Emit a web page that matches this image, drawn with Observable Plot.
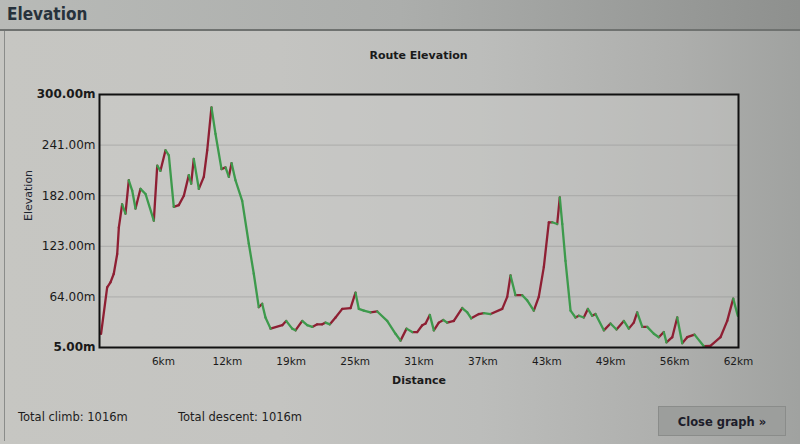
<!DOCTYPE html>
<html>
<head>
<meta charset="utf-8">
<script src="https://cdn.jsdelivr.net/npm/d3@7"></script>
<script src="https://cdn.jsdelivr.net/npm/@observablehq/plot@0.6"></script>
<style>
  html, body { margin:0; padding:0; }
  body {
    width:800px; height:444px; overflow:hidden; position:relative;
    font-family:"DejaVu Sans", Verdana, sans-serif;
    background: linear-gradient(90deg, #c6c6c2 0%, #c4c4c1 35%, #bcbdbb 60%, #adaeac 85%, #a0a2a0 100%);
  }
  #header {
    position:absolute; left:0; top:0; width:800px; height:29px;
    border-bottom:2px solid #6f7270;
    background: linear-gradient(90deg, #b8bab7 0%, #acaeac 50%, #8e908e 100%);
  }
  #header span {
    position:absolute; left:7px; top:4px; font-size:17px; color:#27323c; font-weight:bold;
    font-family:"DejaVu Sans Condensed", "DejaVu Sans", sans-serif;
  }
  #panel {
    position:absolute; left:4px; top:31px; width:790px; height:410px;
    border-left:1px solid #8a8c8a;
  }
  #title {
    position:absolute; left:0; width:837px; top:49px; text-align:center;
    font-size:11px; font-weight:bold; color:#1a1a1a;
  }
  #chart { position:absolute; left:0; top:0; }
  .stat { position:absolute; top:410px; font-size:11.5px; color:#1d1d1d; }
  #close {
    position:absolute; left:658px; top:406px; width:128px; height:30px;
    background:#9c9e9c; border:1px solid #8a8c8a; box-sizing:border-box;
    font-size:11.5px; font-weight:bold; color:#1d1d2a; text-align:center; line-height:30px;
  }
</style>
</head>
<body>
<div id="header"><span>Elevation</span></div>
<div id="panel"></div>
<div id="chart"></div>
<div id="title">Route Elevation</div>
<div class="stat" style="left:18px">Total climb: 1016m</div>
<div class="stat" style="left:178px">Total descent: 1016m</div>
<div id="close">Close graph »</div>
<script>
// Route profile
const distanceKm = [0.15,0.74,1.06,1.38,1.71,1.87,2.19,2.51,2.83,3.16,3.48,3.96,4.45,5.25,5.58,5.89,6.38,6.70,7.18,7.66,8.15,8.63,8.86,9.11,9.60,10.08,10.41,10.82,11.21,11.79,12.18,12.50,12.76,13.14,13.79,14.43,14.91,15.39,15.72,16.04,16.53,17.66,18.04,18.62,18.94,19.59,20.07,20.56,21.04,21.52,21.84,22.26,22.81,23.46,24.26,24.74,25.06,25.54,26.19,26.84,27.80,28.61,29.09,29.67,30.22,30.70,31.19,31.51,31.92,32.31,32.79,33.22,33.60,34.24,35.05,35.54,35.92,36.66,37.14,37.79,38.92,39.40,39.72,40.20,40.85,41.33,41.97,42.45,42.94,43.42,43.75,44.23,44.48,44.72,45.03,45.52,46.00,46.32,46.80,47.19,47.61,47.93,48.74,49.38,49.96,50.67,51.15,51.63,51.96,52.45,52.93,53.57,54.05,54.53,54.79,55.35,55.83,56.31,56.79,57.50,58.40,59.04,60.01,60.66,61.24,61.68];
const elevationM = [21,75,81,91,114,145,172,161,200,188,167,190,184,153,217,211,235,229,169,171,182,206,196,225,190,204,235,285,254,213,215,204,220,200,176,126,91,52,56,40,27,31,36,27,25,36,31,29,32,32,34,32,40,50,51,69,50,48,46,47,36,21,13,27,23,23,31,33,43,25,34,37,34,36,51,46,39,44,45,44,50,64,89,66,66,60,48,64,99,151,151,149,180,149,106,48,40,42,40,50,42,44,25,33,26,36,27,34,46,29,29,21,17,23,11,17,40,10,17,20,6.5,7,17,36,62,42];

const totalKm = 61.75;
const yTicks = [5, 64, 123, 182, 241, 300];
const xTickLabels = ["6km","12km","19km","25km","31km","37km","43km","49km","56km","62km"];

const climbColor = "#8e1f33";
const descentColor = "#3d9a4c";

const xTicks = xTickLabels.map((_, i) => totalKm * (i + 1) / 10);
const segments = d3.pairs(d3.zip(distanceKm, elevationM)).map(([a, b]) => ({
  x1: a[0], y1: a[1], x2: b[0], y2: b[1], up: b[1] >= a[1]
}));

const fmt = d => d.toFixed(2) + "m";
const chart = Plot.plot({
  width: 800,
  height: 400,
  marginLeft: 99,
  marginRight: 62,
  marginTop: 94,
  marginBottom: 53,
  style: { background: "transparent", fontFamily: "DejaVu Sans, Verdana, sans-serif", color: "#1a1a1a" },
  x: { domain: [0, totalKm] },
  y: { domain: [5, 300] },
  marks: [
    Plot.rect([0], { x1: 0, x2: totalKm, y1: 5, y2: 300, fill: "#cbccca", fillOpacity: 0.45 }),
    Plot.ruleY(yTicks.slice(1, -1), { stroke: "#8c8c8c", strokeOpacity: 0.45 }),
    Plot.link(segments.filter(d => d.up), { x1: "x1", y1: "y1", x2: "x2", y2: "y2", stroke: climbColor, strokeWidth: 2.3, strokeLinecap: "round" }),
    Plot.link(segments.filter(d => !d.up), { x1: "x1", y1: "y1", x2: "x2", y2: "y2", stroke: descentColor, strokeWidth: 2.3, strokeLinecap: "round" }),
    Plot.frame({ stroke: "#111", strokeWidth: 2 }),
    Plot.axisY(yTicks.slice(1, -1), { tickSize: 0, tickPadding: 4, tickFormat: fmt, fontSize: 12, label: null }),
    Plot.axisY([yTicks[0], yTicks[yTicks.length - 1]], { tickSize: 0, tickPadding: 4, tickFormat: fmt, fontSize: 12, fontWeight: "bold", label: null }),
    Plot.axisX(xTicks, { tickSize: 0, tickPadding: 10, fontSize: 10.5, tickFormat: (d, i) => xTickLabels[i], label: null }),
    Plot.text(["Elevation"], { frameAnchor: "left", dx: -71, rotate: -90, fontSize: 11, fill: "#1d2430" }),
    Plot.text(["Distance"], { frameAnchor: "bottom", dy: 36, fontSize: 11, fontWeight: "bold" })
  ]
});
document.getElementById("chart").appendChild(chart);
</script>
</body>
</html>
